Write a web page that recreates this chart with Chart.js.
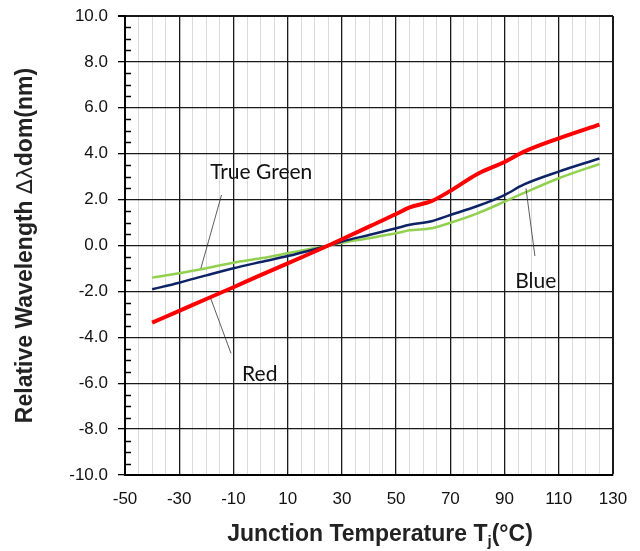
<!DOCTYPE html>
<html lang="en">
<head>
    <meta charset="UTF-8">
    <title>Relative Wavelength vs Junction Temperature</title>
    <script src="https://cdn.jsdelivr.net/npm/chart.js"></script>
    <style>
        body { margin: 0; background: #fff; }
        canvas { display: block; }
    </style>
</head>
<body>
    <canvas id="shiftChart" width="640" height="551"></canvas>
    <script>
        // values (junction temperature in °C, shift in nm)
        const temps = [-40, -30, -20, -10, 0, 10, 20, 25, 30, 40, 50, 55, 63, 70, 80, 90, 97, 110, 125];
        const redShift = [-3.36, -2.85, -2.33, -1.82, -1.29, -0.78, -0.26, 0, 0.27, 0.82, 1.37, 1.66, 1.93, 2.38, 3.12, 3.64, 4.08, 4.67, 5.27];
        const blueShift = [-1.91, -1.62, -1.30, -0.99, -0.72, -0.46, -0.16, 0, 0.17, 0.46, 0.75, 0.90, 1.06, 1.33, 1.72, 2.20, 2.65, 3.22, 3.79];
        const greenShift = [-1.40, -1.21, -0.99, -0.75, -0.56, -0.34, -0.11, 0, 0.12, 0.32, 0.53, 0.66, 0.75, 0.99, 1.40, 1.91, 2.28, 2.93, 3.55];

        const xLabels = [-50, -30, -10, 10, 30, 50, 70, 90, 110, 130];
        const yLabels = [-10, -8, -6, -4, -2, 0, 2, 4, 6, 8, 10];

        // callout labels, in data units
        const notes = [
            { text: 'True Green', at: [-18.6, 3.2], from: [-14.4, 2.2], to: [-22, -0.99] },
            { text: 'Red', at: [-6.8, -5.6], from: [-18.4, -2.3], to: [-10.9, -4.7] },
            { text: 'Blue', at: [93.9, -1.55], from: [97.9, 2.49], to: [101.2, -0.46] }
        ];

        const isMajorX = v => xLabels.includes(Math.round(v));
        const isMajorY = v => yLabels.includes(Math.round(v * 10) / 10);

        const points = arr => temps.map((t, i) => ({ x: t, y: arr[i] }));

        // draws a run of [text, font, yOffset] parts starting at (x, y)
        function drawParts(ctx, parts, x, y) {
            parts.forEach(([text, font, dy]) => {
                ctx.font = font;
                ctx.fillText(text, x, y + dy);
                x += ctx.measureText(text).width;
            });
        }
        function partsWidth(ctx, parts) {
            return parts.reduce((w, [text, font]) => {
                ctx.font = font;
                return w + ctx.measureText(text).width;
            }, 0);
        }

        const BOLD = 'bold 23px "Liberation Sans"';

        const extras = {
            id: 'extras',
            afterDatasetsDraw(chart) {
                const { ctx, chartArea, scales: { x, y } } = chart;
                ctx.save();
                // minor ticks on the inside of the y axis
                ctx.strokeStyle = '#000';
                ctx.lineWidth = 1.5;
                for (let v = -10; v <= 10; v += 0.5) {
                    if (isMajorY(v)) continue;
                    const py = Math.round(y.getPixelForValue(v)) + 0.5;
                    ctx.beginPath();
                    ctx.moveTo(chartArea.left, py);
                    ctx.lineTo(chartArea.left + 6, py);
                    ctx.stroke();
                }
                // callouts
                ctx.lineWidth = 0.8;
                ctx.strokeStyle = '#333';
                ctx.fillStyle = '#111';
                ctx.font = '21px Lato';
                ctx.textBaseline = 'middle';
                notes.forEach(n => {
                    ctx.beginPath();
                    ctx.moveTo(x.getPixelForValue(n.from[0]), y.getPixelForValue(n.from[1]));
                    ctx.lineTo(x.getPixelForValue(n.to[0]), y.getPixelForValue(n.to[1]));
                    ctx.stroke();
                    ctx.fillText(n.text, x.getPixelForValue(n.at[0]), y.getPixelForValue(n.at[1]));
                });

                ctx.fillStyle = '#222';
                ctx.textBaseline = 'alphabetic';
                // x axis title with subscript j
                const xParts = [
                    ['Junction Temperature T', BOLD, 0],
                    ['j', 'bold 15px "Liberation Sans"', 5],
                    ['(°C)', BOLD, 0]
                ];
                const xw = partsWidth(ctx, xParts);
                drawParts(ctx, xParts, (chartArea.left + chartArea.right) / 2 + 11 - xw / 2, chart.height - 10);

                // y axis title, the delta-lambda in a lighter weight
                const yParts = [
                    ['Relative Wavelength ', BOLD, 0],
                    ['\u2206\u03bb', '22px "DejaVu Sans"', 0],
                    ['dom(nm)', BOLD, 0]
                ];
                const yw = partsWidth(ctx, yParts);
                ctx.translate(32, (chartArea.top + chartArea.bottom) / 2);
                ctx.rotate(-Math.PI / 2);
                drawParts(ctx, yParts, -yw / 2, 0);
                ctx.restore();
            }
        };

        const ctx = document.getElementById('shiftChart').getContext('2d');
        new Chart(ctx, {
            type: 'line',
            data: {
                datasets: [
                    {
                        label: 'Red',
                        data: points(redShift),
                        borderColor: '#ff0000',
                        borderWidth: 4,
                        pointRadius: 0,
                        cubicInterpolationMode: 'monotone'
                    },
                    {
                        label: 'Blue',
                        data: points(blueShift),
                        borderColor: '#0d2366',
                        borderWidth: 2.5,
                        pointRadius: 0,
                        cubicInterpolationMode: 'monotone'
                    },
                    {
                        label: 'True Green',
                        data: points(greenShift),
                        borderColor: '#92d050',
                        borderWidth: 2.5,
                        pointRadius: 0,
                        cubicInterpolationMode: 'monotone'
                    }
                ]
            },
            options: {
                responsive: false,
                animation: false,
                layout: { padding: { top: 16, right: 27, left: 0, bottom: 0 } },
                plugins: {
                    legend: { display: false },
                    tooltip: { enabled: false }
                },
                scales: {
                    x: {
                        type: 'linear',
                        min: -50,
                        max: 130,
                        afterFit: s => { s.height = 76; s.paddingLeft = 0; s.paddingRight = 0; },
                        border: { color: '#000', width: 2 },
                        grid: {
                            drawTicks: false,
                            color: c => isMajorX(c.tick.value) ? '#1a1a1a' : '#dadada',
                            lineWidth: c => c.tick.value === 130 ? 2 : (isMajorX(c.tick.value) ? 1.3 : 1)
                        },
                        ticks: {
                            stepSize: 5,
                            autoSkip: false,
                            maxRotation: 0,
                            padding: 14,
                            color: '#111',
                            font: { family: 'Liberation Sans', size: 17 },
                            callback: v => isMajorX(v) ? String(Math.round(v)) : ''
                        }
                    },
                    y: {
                        min: -10,
                        max: 10,
                        afterFit: s => { s.width = 125; s.paddingTop = 0; s.paddingBottom = 0; },
                        border: { color: '#000', width: 2 },
                        grid: {
                            tickLength: 7,
                            color: c => isMajorY(c.tick.value) ? '#1a1a1a' : 'rgba(0,0,0,0)',
                            tickColor: c => isMajorY(c.tick.value) ? '#000' : 'rgba(0,0,0,0)',
                            lineWidth: c => c.tick.value === 10 ? 2 : 1.3
                        },
                        ticks: {
                            stepSize: 0.5,
                            autoSkip: false,
                            padding: 10,
                            color: '#111',
                            font: { family: 'Liberation Sans', size: 17 },
                            callback: v => isMajorY(v) ? v.toFixed(1) : ''
                        }
                    }
                }
            },
            plugins: [extras]
        });
    </script>
</body>
</html>
